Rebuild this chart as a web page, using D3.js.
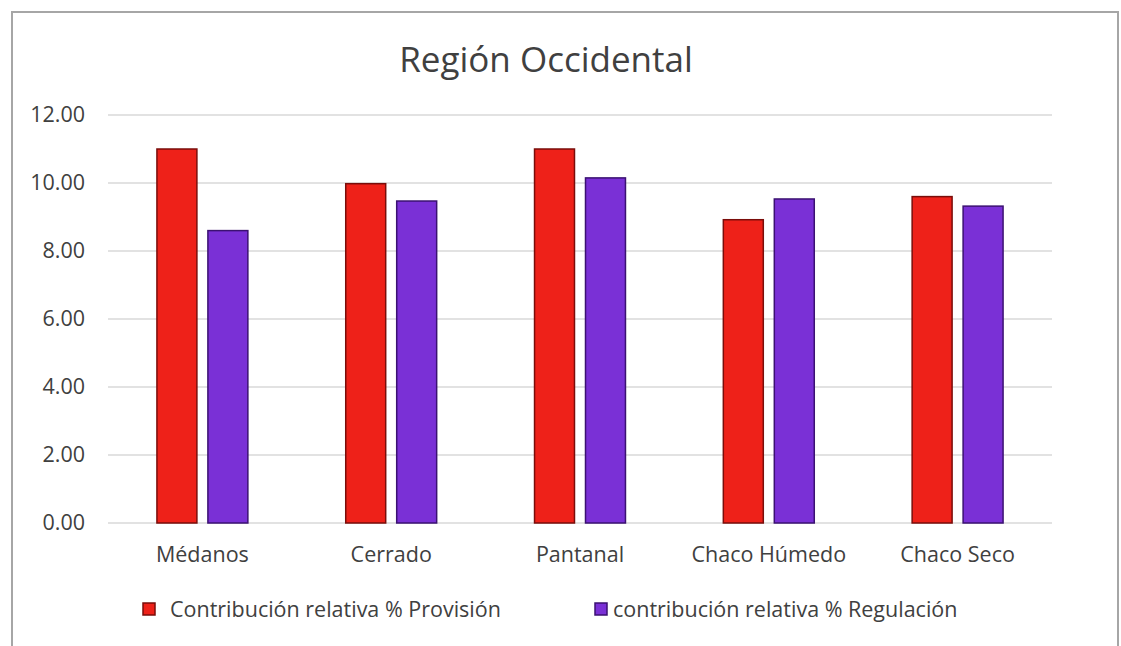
<!DOCTYPE html>
<meta charset="utf-8">
<script src="https://d3js.org/d3.v7.min.js"></script>
<style>
  body { margin: 0; background: #fff; }
  text { font-family: "Open Sans", sans-serif; fill: #404040; }
</style>
<body>
<div id="chart"></div>
</body>
<script>
    const categories = ["Médanos", "Cerrado", "Pantanal", "Chaco Húmedo", "Chaco Seco"];
    const provision = [11.0, 9.98, 11.0, 8.92, 9.6];
    const regulacion = [8.6, 9.47, 10.15, 9.53, 9.32];
    const seriesNames = ["Contribución relativa % Provisión", "contribución relativa % Regulación"];
    const yTicks = [0, 2, 4, 6, 8, 10, 12];

    const W = 1121, H = 646;
    const margin = {top: 115, right: 69, bottom: 123, left: 108};
    const width = W - margin.left - margin.right,
        height = H - margin.top - margin.bottom;

    const colors = ["#ee2119", "#7a30d6"];
    const strokes = ["#7a0d0a", "#3b1172"];

    const svg = d3.select("#chart")
        .append("svg")
        .attr("width", W)
        .attr("height", H);

    // chart frame
    svg.append("rect")
        .attr("x", 12).attr("y", 12)
        .attr("width", 1106).attr("height", 660)
        .attr("fill", "none")
        .attr("stroke", "#a6a6a6")
        .attr("stroke-width", 2);

    const g = svg.append("g")
        .attr("transform", "translate(" + margin.left + "," + margin.top + ")");

    const x0 = d3.scaleBand()
        .domain(categories)
        .range([0, width]);

    const x1 = d3.scaleBand()
        .domain([0, 1])
        .range([0, x0.bandwidth()])
        .paddingInner(0.216)
        .paddingOuter(0.96);

    const y = d3.scaleLinear()
        .domain([0, 12])
        .range([height, 0]);

    // gridlines
    g.append("g")
        .selectAll("line")
        .data(yTicks)
        .join("line")
        .attr("x1", 0).attr("x2", width)
        .attr("y1", d => y(d)).attr("y2", d => y(d))
        .attr("stroke", "#d9d9d9")
        .attr("stroke-width", 1.5);

    // y axis
    const yAxis = g.append("g")
        .call(d3.axisLeft(y).tickValues(yTicks).tickFormat(d3.format(".2f")).tickSize(0).tickPadding(23));
    yAxis.select(".domain").remove();
    yAxis.selectAll("text")
        .style("font-size", "21.5px")
        .style("font-family", "'Open Sans', sans-serif")
        .attr("fill", "#404040");

    // x axis
    const xAxis = g.append("g")
        .attr("transform", "translate(0," + height + ")")
        .call(d3.axisBottom(x0).tickSize(0).tickPadding(24));
    xAxis.select(".domain").remove();
    xAxis.selectAll("text")
        .style("font-size", "21.5px")
        .style("font-family", "'Open Sans', sans-serif")
        .attr("fill", "#404040");

    // bars
    const rows = categories.map((c, i) => ({cat: c, vals: [provision[i], regulacion[i]]}));
    g.selectAll(".grp")
        .data(rows)
        .join("g")
        .attr("class", "grp")
        .attr("transform", d => "translate(" + x0(d.cat) + ",0)")
        .selectAll("rect")
        .data(d => d.vals.map((v, k) => ({k: k, v: v})))
        .join("rect")
        .attr("x", d => x1(d.k))
        .attr("y", d => y(d.v))
        .attr("width", x1.bandwidth())
        .attr("height", d => y(0) - y(d.v))
        .attr("fill", d => colors[d.k])
        .attr("stroke", d => strokes[d.k])
        .attr("stroke-width", 1.5);

    // title
    svg.append("text")
        .attr("x", 546)
        .attr("y", 72)
        .attr("text-anchor", "middle")
        .style("font-size", "35px")
        .attr("fill", "#262626")
        .text("Región Occidental");

    // legend
    const legendX = [143, 595];
    const legend = svg.selectAll(".leg")
        .data(seriesNames)
        .join("g")
        .attr("class", "leg")
        .attr("transform", (d, i) => "translate(" + legendX[i] + ",609)");
    legend.append("rect")
        .attr("x", 0).attr("y", -6)
        .attr("width", 12).attr("height", 12)
        .attr("fill", (d, i) => colors[i])
        .attr("stroke", (d, i) => strokes[i])
        .attr("stroke-width", 1.5);
    legend.append("text")
        .attr("x", (d, i) => i === 0 ? 27 : 18)
        .attr("y", 0)
        .attr("dy", "0.35em")
        .style("font-size", "21.5px")
        .text(d => d);
</script>
